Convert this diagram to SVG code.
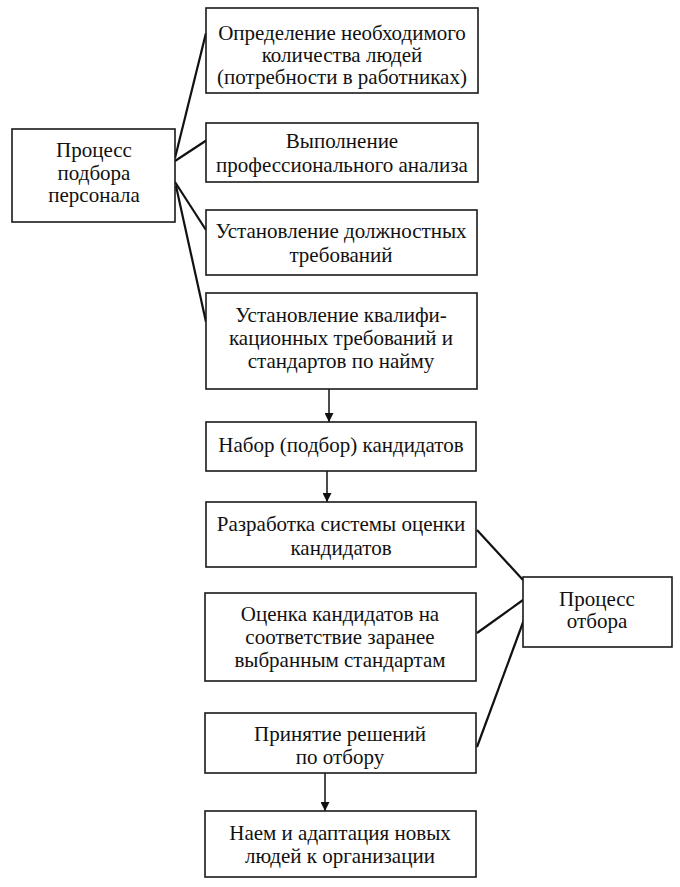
<svg xmlns="http://www.w3.org/2000/svg" width="680" height="887" viewBox="0 0 680 887">
<style>
.b{fill:#fff;stroke:#1a1a1a;stroke-width:1.6}
.t{font-family:"Liberation Serif","Times New Roman",serif;font-size:21px;fill:#111;text-anchor:middle}
.c{stroke:#111;stroke-width:2.2;fill:none}
.a{stroke:#111;stroke-width:1.5;fill:none}
</style>
<defs>
<marker id="ah" viewBox="0 0 10 10" refX="10" refY="5" markerWidth="9" markerHeight="9" markerUnits="userSpaceOnUse" orient="auto">
<path d="M0,0 L10,5 L0,10 z" fill="#111"/>
</marker>
</defs>
<rect width="680" height="887" fill="#fff"/>
<g id="connectors">
<line class="c" x1="175" y1="158" x2="206" y2="33"/>
<line class="c" x1="175" y1="161" x2="210" y2="138"/>
<line class="c" x1="175" y1="182" x2="206" y2="230"/>
<line class="c" x1="176" y1="186" x2="206" y2="322"/>
<line class="a" x1="329" y1="389" x2="329" y2="422" marker-end="url(#ah)"/>
<line class="a" x1="327" y1="471" x2="327" y2="502" marker-end="url(#ah)"/>
<line class="a" x1="325" y1="773" x2="325" y2="811" marker-end="url(#ah)"/>
<line class="c" x1="477" y1="530" x2="523" y2="580"/>
<line class="c" x1="477" y1="633" x2="523" y2="600"/>
<line class="c" x1="477" y1="747" x2="525" y2="617"/>
</g>
<g id="n0"><rect class="b" x="12" y="129" width="163" height="93"/>
<text class="t" x="94" y="157">Процесс</text><text class="t" x="94" y="180">подбора</text><text class="t" x="94" y="202">персонала</text></g>
<g id="n1"><rect class="b" x="206" y="8" width="272" height="85"/>
<text class="t" x="342" y="40">Определение необходимого</text><text class="t" x="342" y="62">количества людей</text><text class="t" x="342" y="84">(потребности в работниках)</text></g>
<g id="n2"><rect class="b" x="206" y="123" width="272" height="59"/>
<text class="t" x="342" y="148">Выполнение</text><text class="t" x="342" y="172">профессионального анализа</text></g>
<g id="n3"><rect class="b" x="206" y="210" width="271" height="65"/>
<text class="t" x="341" y="238">Установление должностных</text><text class="t" x="341" y="262">требований</text></g>
<g id="n4"><rect class="b" x="206" y="293" width="271" height="96"/>
<text class="t" x="341" y="322">Установление квалифи-</text><text class="t" x="341" y="345">кационных требований и</text><text class="t" x="341" y="368">стандартов по найму</text></g>
<g id="n5"><rect class="b" x="206" y="422" width="270" height="49"/>
<text class="t" x="341" y="452">Набор (подбор) кандидатов</text></g>
<g id="n6"><rect class="b" x="206" y="502" width="270" height="65"/>
<text class="t" x="341" y="531">Разработка системы оценки</text><text class="t" x="341" y="555">кандидатов</text></g>
<g id="n7"><rect class="b" x="205" y="593" width="271" height="88"/>
<text class="t" x="340" y="621">Оценка кандидатов на</text><text class="t" x="340" y="644">соответствие заранее</text><text class="t" x="340" y="667">выбранным стандартам</text></g>
<g id="n8"><rect class="b" x="205" y="713" width="271" height="60"/>
<text class="t" x="340" y="741">Принятие решений</text><text class="t" x="340" y="764">по отбору</text></g>
<g id="n9"><rect class="b" x="205" y="811" width="271" height="66"/>
<text class="t" x="340" y="840">Наем и адаптация новых</text><text class="t" x="340" y="863">людей к организации</text></g>
<g id="n10"><rect class="b" x="523" y="577" width="149" height="70"/>
<text class="t" x="597" y="606">Процесс</text><text class="t" x="597" y="628">отбора</text></g>
</svg>
